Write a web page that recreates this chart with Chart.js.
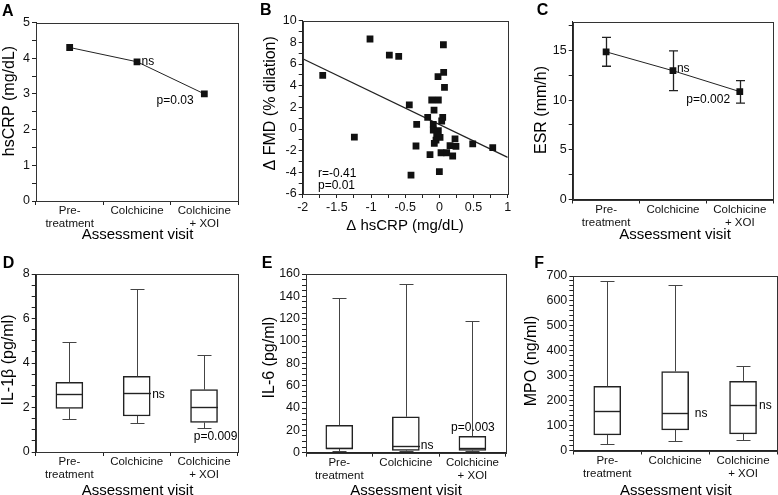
<!DOCTYPE html>
<html>
<head>
<meta charset="utf-8">
<script src="https://cdn.jsdelivr.net/npm/chart.js@4.4.0/dist/chart.umd.min.js"></script>
<style>
  body { margin: 0; background: #fff; }
  #wrap { position: relative; width: 778px; height: 495px; overflow: hidden; }
  canvas { position: absolute; }
</style>
</head>
<body>
<div id="wrap">
  <canvas id="panelA" width="255" height="248" style="left:0;top:0"></canvas>
  <canvas id="panelB" width="260" height="248" style="left:255px;top:0"></canvas>
  <canvas id="panelC" width="263" height="248" style="left:515px;top:0"></canvas>
  <canvas id="panelD" width="255" height="247" style="left:0;top:248px"></canvas>
  <canvas id="panelE" width="260" height="247" style="left:255px;top:248px"></canvas>
  <canvas id="panelF" width="263" height="247" style="left:515px;top:248px"></canvas>
</div>
<script>
// ---- data ----
const visits = [['Pre-', 'treatment'], 'Colchicine', ['Colchicine', '+ XOI']];

// A: hsCRP per visit
const hsCrp = [4.3, 3.9, 3.0];

// B: change in hsCRP vs change in FMD
const deltaCrp = [-1.015, -0.732, -0.595, -1.707, -1.244, 0.059, 0.063, -0.02, 0.075, -0.44,
  -0.112, -0.015, -0.078, -0.171, 0.049, 0.034, -0.332, -0.089, -0.089, -0.015,
  -0.039, 0.01, -0.049, -0.074, 0.229, 0.156, 0.243, 0.488, 0.781, -0.342,
  -0.137, 0.024, 0.107, 0.195, -0.415, 0.0];
const deltaFmd = [8.31, 6.83, 6.71, 4.95, -0.74, 7.78, 5.23, 4.83, 3.85, 2.22,
  2.68, 2.68, 1.75, 1.08, 1.08, 0.74, 0.43, 0.43, -0.09, -0.16,
  -0.55, -0.77, -1.02, -1.32, -0.92, -1.54, -1.6, -1.38, -1.72, -1.57,
  -2.37, -2.19, -2.19, -2.49, -4.25, -3.94];
const fitX = [-2, 1];
const fitY = [6.49, -2.62];

// C: ESR mean and error bars
const esrMean = [14.85, 12.95, 10.85];
const esrLow = [13.4, 10.95, 9.7];
const esrHigh = [16.3, 14.95, 11.95];

// D: IL-1b boxes
const il1bMin = [1.47, 1.32, 1.09];
const il1bQ1 = [1.96, 1.62, 1.33];
const il1bMed = [2.59, 2.64, 2.02];
const il1bQ3 = [3.13, 3.40, 2.80];
const il1bMax = [4.94, 7.33, 4.37];

// E: IL-6 boxes
const il6Min = [1.2, 1.5, 1.2];
const il6Q1 = [3.3, 2.1, 2.1];
const il6Med = [4.2, 6.0, 4.5];
const il6Q3 = [24.5, 32.2, 14.6];
const il6Max = [138.2, 150.7, 117.9];

// F: MPO boxes
const mpoMin = [27, 40, 43];
const mpoQ1 = [63, 83, 67];
const mpoMed = [159, 149, 181];
const mpoQ3 = [257, 317, 277];
const mpoMax = [679, 665, 337];

const INK = '#222';
const FONT = '"Liberation Sans", Arial, Helvetica, sans-serif';

// draws frame, titles, letters, notes, whiskers and error bars
function makeDecor(cfg) {
    return {
        id: 'decor',
        beforeDatasetsDraw(chart) {
            if (!cfg.err) return;
            const ctx = chart.ctx, x = chart.scales.x, y = chart.scales.y;
            ctx.save();
            ctx.strokeStyle = INK;
            ctx.lineWidth = 1.3;
            cfg.err.low.forEach((lo, i) => {
                const cx = Math.round(x.getPixelForValue(i)) + 0.5;
                const y0 = y.getPixelForValue(lo), y1 = y.getPixelForValue(cfg.err.high[i]);
                ctx.beginPath();
                ctx.moveTo(cx, y0); ctx.lineTo(cx, y1);
                ctx.moveTo(cx - 4.5, y0); ctx.lineTo(cx + 4.5, y0);
                ctx.moveTo(cx - 4.5, y1); ctx.lineTo(cx + 4.5, y1);
                ctx.stroke();
            });
            ctx.restore();
        },
        afterDatasetsDraw(chart) {
            if (!cfg.box) return;
            const ctx = chart.ctx, x = chart.scales.x, y = chart.scales.y;
            const b = cfg.box;
            ctx.save();
            b.max.forEach((hi, i) => {
                const cx = Math.round(x.getPixelForValue(i)) + 0.5;
                ctx.strokeStyle = '#444';
                ctx.lineWidth = 1;
                [[b.q3[i], hi], [b.q1[i], b.min[i]]].forEach(([from, to]) => {
                    const y0 = y.getPixelForValue(from);
                    const y1 = Math.round(y.getPixelForValue(to)) + 0.5;
                    ctx.beginPath();
                    ctx.moveTo(cx, y0); ctx.lineTo(cx, y1);
                    ctx.moveTo(cx - 7, y1); ctx.lineTo(cx + 7, y1);
                    ctx.stroke();
                });
                const ym = Math.round(y.getPixelForValue(b.med[i])) + 0.5;
                ctx.strokeStyle = INK;
                ctx.lineWidth = 1.4;
                ctx.beginPath();
                ctx.moveTo(cx - 13.5, ym); ctx.lineTo(cx + 13.5, ym);
                ctx.stroke();
            });
            ctx.restore();
        },
        afterDraw(chart) {
            const ctx = chart.ctx, a = chart.chartArea;
            const x = chart.scales.x, y = chart.scales.y;
            ctx.save();
            ctx.strokeStyle = '#333';
            ctx.lineWidth = 1;
            ctx.strokeRect(Math.round(a.left) + 0.5, Math.round(a.top) + 0.5,
                Math.round(a.right) - Math.round(a.left), Math.round(a.bottom) - Math.round(a.top));

            ctx.fillStyle = '#000';
            ctx.textBaseline = 'alphabetic';
            ctx.font = 'bold 16px ' + FONT;
            ctx.textAlign = 'left';
            ctx.fillText(cfg.letter[0], cfg.letter[1], cfg.letter[2]);

            ctx.font = '15px ' + FONT;
            ctx.textAlign = 'center';
            ctx.fillText(cfg.xTitle[0], cfg.xTitle[1], cfg.xTitle[2]);

            ctx.save();
            ctx.font = '16px ' + FONT;
            ctx.textBaseline = 'middle';
            ctx.translate(cfg.yTitle[1], cfg.yTitle[2]);
            ctx.rotate(-Math.PI / 2);
            ctx.fillText(cfg.yTitle[0], 0, 0);
            ctx.restore();

            ctx.font = '12px ' + FONT;
            (cfg.notes || []).forEach(n => {
                ctx.textAlign = n.align || 'left';
                ctx.fillText(n.t, x.getPixelForValue(n.x) + n.dx, y.getPixelForValue(n.y) + n.dy);
            });
            ctx.restore();
        }
    };
}

function catAxis(height) {
    return {
        type: 'category',
        offset: true,
        grid: { offset: true, drawOnChartArea: false, tickLength: 4, color: INK },
        border: { color: INK },
        ticks: { color: '#111', font: { family: FONT, size: 11.5, lineHeight: 1.1 }, padding: 0, maxRotation: 0, autoSkip: false },
        afterFit: s => { s.height = height; }
    };
}

function numAxis(type, min, max, step, labelEvery, fit) {
    return {
        type: 'linear',
        min: min,
        max: max,
        grid: { drawOnChartArea: false, tickLength: 4, color: INK },
        border: { color: INK },
        ticks: {
            stepSize: step,
            includeBounds: false,
            autoSkip: false,
            maxRotation: 0,
            color: '#111',
            font: { family: FONT, size: 12.5 },
            padding: 2,
            callback: v => {
                const r = v / labelEvery;
                return Math.abs(r - Math.round(r)) < 1e-6 ? String(v) : '';
            }
        },
        afterFit: s => { if (type === 'x') s.height = fit; else s.width = fit; }
    };
}

const baseOptions = (pad) => ({
    responsive: false,
    animation: false,
    layout: { padding: pad },
    plugins: { legend: { display: false }, tooltip: { enabled: false } }
});

// Panel A
new Chart(document.getElementById('panelA'), {
    type: 'line',
    data: {
        labels: visits,
        datasets: [{
            data: hsCrp,
            borderColor: INK,
            borderWidth: 1,
            pointStyle: 'rect',
            pointRadius: 4.8,
            pointBorderWidth: 0,
            pointBackgroundColor: '#111'
        }]
    },
    options: Object.assign(baseOptions({ left: 0, top: 22.5, right: 17, bottom: 0 }), {
        scales: { x: catAxis(47), y: numAxis('y', 0, 5, 0.5, 1, 36) }
    }),
    plugins: [makeDecor({
        letter: ['A', 2, 15.5],
        xTitle: ['Assessment visit', 137.5, 239.3],
        yTitle: ['hsCRP (mg/dL)', 9.5, 101],
        notes: [
            { t: 'ns', x: 1, y: hsCrp[1], dx: 4.5, dy: 3.3 },
            { t: 'p=0.03', x: 2, y: hsCrp[2], dx: -10.7, dy: 9.8, align: 'right' }
        ]
    })]
});

// Panel B
new Chart(document.getElementById('panelB'), {
    type: 'scatter',
    data: {
        datasets: [{
            data: deltaCrp.map((v, i) => ({ x: v, y: deltaFmd[i] })),
            pointStyle: 'rect',
            pointRadius: 4.8,
            pointBorderWidth: 0,
            pointBackgroundColor: '#111'
        }, {
            type: 'line',
            data: fitX.map((v, i) => ({ x: v, y: fitY[i] })),
            borderColor: INK,
            borderWidth: 1.3,
            pointRadius: 0
        }]
    },
    options: Object.assign(baseOptions({ left: 0, top: 20.7, right: 7.3, bottom: 0 }), {
        scales: { x: numAxis('x', -2, 1, 0.25, 0.5, 54), y: numAxis('y', -6, 10, 1, 2, 47.7) }
    }),
    plugins: [makeDecor({
        letter: ['B', 5, 15],
        xTitle: ['Δ hsCRP (mg/dL)', 150, 230],
        yTitle: ['Δ FMD (% dilation)', 15.7, 103.3],
        notes: [
            { t: 'r=-0.41', x: -1.776, y: -4.39, dx: 0, dy: 0 },
            { t: 'p=0.01', x: -1.776, y: -5.54, dx: 0, dy: 0 }
        ]
    })]
});

// Panel C
new Chart(document.getElementById('panelC'), {
    type: 'line',
    data: {
        labels: visits,
        datasets: [{
            data: esrMean,
            borderColor: INK,
            borderWidth: 1,
            pointStyle: 'rect',
            pointRadius: 4.8,
            pointBorderWidth: 0,
            pointBackgroundColor: '#111'
        }]
    },
    options: Object.assign(baseOptions({ left: 0, top: 21.5, right: 1, bottom: 0 }), {
        scales: { x: catAxis(48.5), y: numAxis('y', 0, 17.9, 2.5, 5, 57.7) }
    }),
    plugins: [makeDecor({
        letter: ['C', 21.7, 15],
        xTitle: ['Assessment visit', 160, 239.3],
        yTitle: ['ESR (mm/h)', 27, 110],
        err: { low: esrLow, high: esrHigh },
        notes: [
            { t: 'ns', x: 1, y: esrMean[1], dx: 4, dy: 1 },
            { t: 'p=0.002', x: 2, y: esrMean[2], dx: -9.7, dy: 11.7, align: 'right' }
        ]
    })]
});

function boxChart(id, q1, q3, box, y, pad, xH, deco) {
    return new Chart(document.getElementById(id), {
        type: 'bar',
        data: {
            labels: visits,
            datasets: [{
                data: q1.map((v, i) => [v, q3[i]]),
                backgroundColor: '#fff',
                borderColor: INK,
                borderWidth: 1.5,
                borderSkipped: false,
                barThickness: 27
            }]
        },
        options: Object.assign(baseOptions(pad), { scales: { x: catAxis(xH), y: y } }),
        plugins: [makeDecor(Object.assign({ box: box }, deco))]
    });
}

// Panel D
boxChart('panelD', il1bQ1, il1bQ3,
    { min: il1bMin, q1: il1bQ1, med: il1bMed, q3: il1bQ3, max: il1bMax },
    numAxis('y', 0, 8, 0.5, 2, 35.7),
    { left: 0, top: 26, right: 17.3, bottom: 0 }, 43, {
        letter: ['D', 2.7, 20.3],
        xTitle: ['Assessment visit', 137.5, 247],
        yTitle: ['IL-1β (pg/ml)', 8.5, 112],
        notes: [
            { t: 'ns', x: 1, y: il1bMed[1], dx: 15.5, dy: 4.4 },
            { t: 'p=0.009', x: 2, y: il1bMin[2], dx: -10.3, dy: 12.3 }
        ]
    });

// Panel E
boxChart('panelE', il6Q1, il6Q3,
    { min: il6Min, q1: il6Q1, med: il6Med, q3: il6Q3, max: il6Max },
    numAxis('y', 0, 160, 5, 20, 51),
    { left: 0, top: 26, right: 9.3, bottom: 0 }, 42.3, {
        letter: ['E', 6.7, 20.3],
        xTitle: ['Assessment visit', 151, 247],
        yTitle: ['IL-6 (pg/ml)', 14.5, 109.5],
        notes: [
            { t: 'ns', x: 1, y: il6Med[1], dx: 15, dy: 3.5 },
            { t: 'p=0.003', x: 2, y: il6Q3[2], dx: 0.5, dy: -5, align: 'center' }
        ]
    });

// Panel F
boxChart('panelF', mpoQ1, mpoQ3,
    { min: mpoMin, q1: mpoQ1, med: mpoMed, q3: mpoQ3, max: mpoMax },
    numAxis('y', 0, 700, 20, 100, 58.3),
    { left: 0, top: 28, right: 1, bottom: 0 }, 44.5, {
        letter: ['F', 19.3, 20.3],
        xTitle: ['Assessment visit', 160.8, 247],
        yTitle: ['MPO (ng/ml)', 16.3, 113],
        notes: [
            { t: 'ns', x: 1, y: mpoMed[1], dx: 19.7, dy: 3.3 },
            { t: 'ns', x: 2, y: mpoMed[2], dx: 16, dy: 3.6 }
        ]
    });
</script>
</body>
</html>
